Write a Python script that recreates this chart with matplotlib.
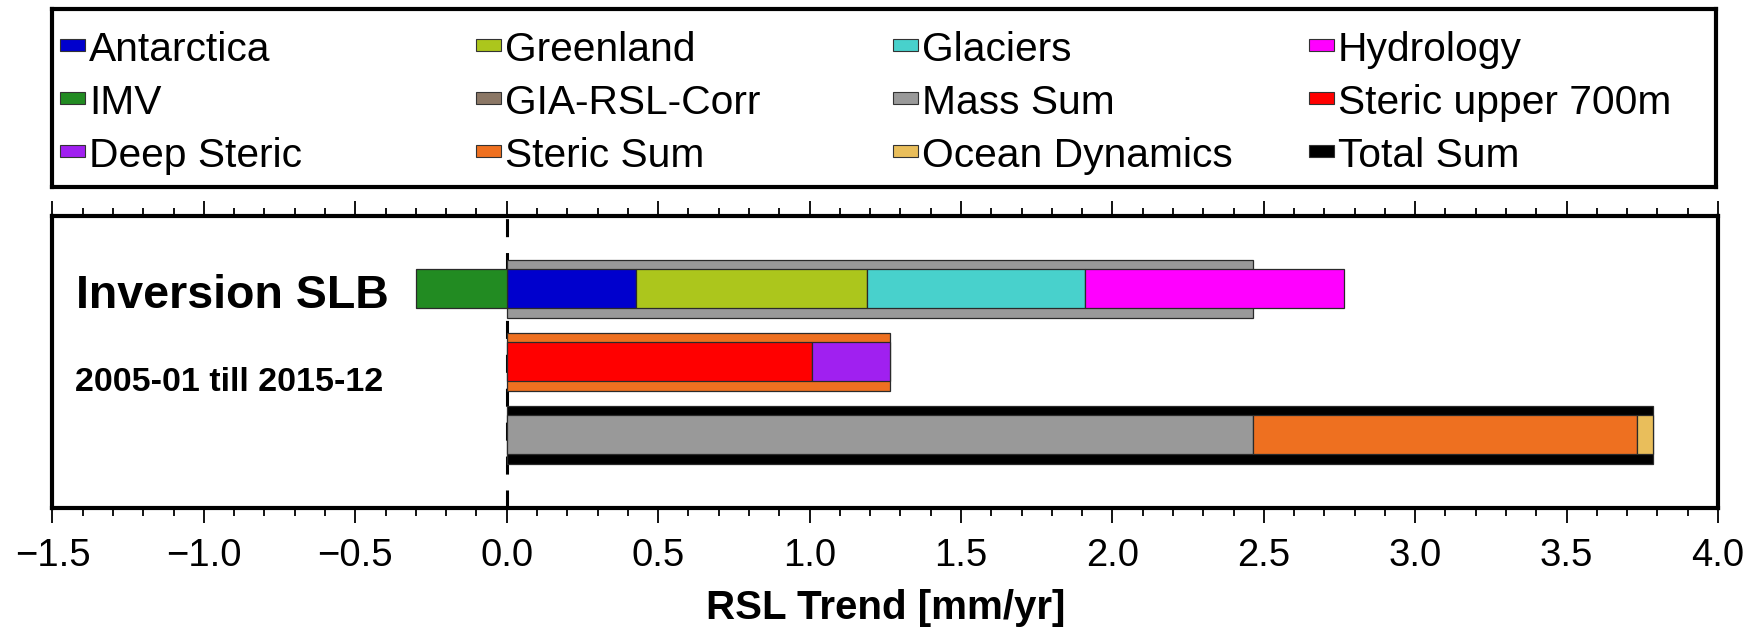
import matplotlib.pyplot as plt
from matplotlib.patches import Rectangle
from matplotlib.ticker import MultipleLocator, FuncFormatter

plt.rcParams['font.family'] = ['Liberation Sans', 'DejaVu Sans']

# -------------------------------
# Data (RSL trends, mm/yr)
# -------------------------------
mass_names = ["Antarctica", "Greenland", "Glaciers", "Hydrology", "IMV", "GIA-RSL-Corr"]
mass_trends = [0.427, 0.763, 0.721, 0.855, -0.301, 0.0]

steric_names = ["Steric upper 700m", "Deep Steric"]
steric_trends = [1.007, 0.259]

ocean_dyn_trend = 0.054

legend_names = ["Antarctica", "Greenland", "Glaciers", "Hydrology",
                "IMV", "GIA-RSL-Corr", "Mass Sum", "Steric upper 700m",
                "Deep Steric", "Steric Sum", "Ocean Dynamics", "Total Sum"]
legend_colors = ["#0000cd", "#acc61c", "#48d1cc", "#ff00ff",
                 "#228b22", "#8b7765", "#999999", "#ff0000",
                 "#a020f0", "#ee7020", "#e9be5b", "#000000"]
colors = dict(zip(legend_names, legend_colors))

title_text = "Inversion SLB"
period_text = "2005-01 till 2015-12"

mass_sum = sum(mass_trends)
steric_sum = sum(steric_trends)
total_sum = mass_sum + steric_sum + ocean_dyn_trend

# -------------------------------
# Figure
# -------------------------------
fig = plt.figure(figsize=(17.49, 6.27), dpi=100)
ax = fig.add_axes([0.0300, 0.1898, 0.9523, 0.4662])

row_mass, row_steric, row_total = 3, 2, 1
outer_h, inner_h = 0.79, 0.535
edge = dict(edgecolor="#2a2a2a", linewidth=0.9)

ax.axvline(0, color="black", lw=2.2, ls=(0, (5.9, 5.2)), zorder=1)

# row 1: mass components on top of mass sum
ax.barh(row_mass, mass_sum, height=outer_h, color=colors["Mass Sum"], zorder=2, **edge)
pos_left, neg_left = 0.0, 0.0
for name, v in zip(mass_names, mass_trends):
    if v == 0:
        continue
    if v > 0:
        ax.barh(row_mass, v, left=pos_left, height=inner_h, color=colors[name], zorder=3, **edge)
        pos_left += v
    else:
        ax.barh(row_mass, v, left=neg_left, height=inner_h, color=colors[name], zorder=3, **edge)
        neg_left += v

# row 2: steric components on top of steric sum
ax.barh(row_steric, steric_sum, height=outer_h, color=colors["Steric Sum"], zorder=2, **edge)
left = 0.0
for name, v in zip(steric_names, steric_trends):
    ax.barh(row_steric, v, left=left, height=inner_h, color=colors[name], zorder=3, **edge)
    left += v

# row 3: sums on top of total sum
ax.barh(row_total, total_sum, height=outer_h, color=colors["Total Sum"], zorder=2, **edge)
left = 0.0
for name, v in zip(["Mass Sum", "Steric Sum", "Ocean Dynamics"],
                   [mass_sum, steric_sum, ocean_dyn_trend]):
    ax.barh(row_total, v, left=left, height=inner_h, color=colors[name], zorder=3, **edge)
    left += v

ax.text(-1.4225, 2.733, title_text, fontsize=33.5, fontweight="bold", va="baseline")
ax.text(-1.426, 1.606, period_text, fontsize=24.5, fontweight="bold", va="baseline")

# -------------------------------
# Axes styling
# -------------------------------
ax.set_xlim(-1.5, 4.0)
ax.set_ylim(0, 4)
ax.set_yticks([])
ax.xaxis.set_major_locator(MultipleLocator(0.5))
ax.xaxis.set_minor_locator(MultipleLocator(0.1))
ax.xaxis.set_major_formatter(FuncFormatter(lambda x, p: f"{x:.1f}".replace("-", "\u2212")))
ax.tick_params(axis="x", which="both", direction="out", top=True, bottom=True,
               labeltop=False, width=1.3, labelsize=27.5, pad=11)
ax.tick_params(axis="x", which="major", length=10.5)
ax.tick_params(axis="x", which="minor", length=5.8)
for s in ax.spines.values():
    s.set_linewidth(3)
ax.set_xlabel("RSL Trend [mm/yr]", fontsize=29, fontweight="bold", labelpad=11)

# -------------------------------
# Legend box (4 columns, row-wise)
# -------------------------------
lax = fig.add_axes([0.0300, 0.701, 0.9511, 0.284])
lax.set_xlim(0, 1663.5)
lax.set_ylim(178, 0)
lax.set_xticks([])
lax.set_yticks([])
for s in lax.spines.values():
    s.set_linewidth(3)

for i, name in enumerate(legend_names):
    r, c = divmod(i, 4)
    x0 = 7.8 + c * 416.2
    yc = 35.5 + r * 53
    lax.add_patch(Rectangle((x0, yc - 6), 25, 12, facecolor=colors[name],
                            edgecolor="#333333", linewidth=0.8))
    lax.text(x0 + 29, yc + 16, name, fontsize=29.3, va="baseline")

fig.savefig("out.png", dpi=100)
